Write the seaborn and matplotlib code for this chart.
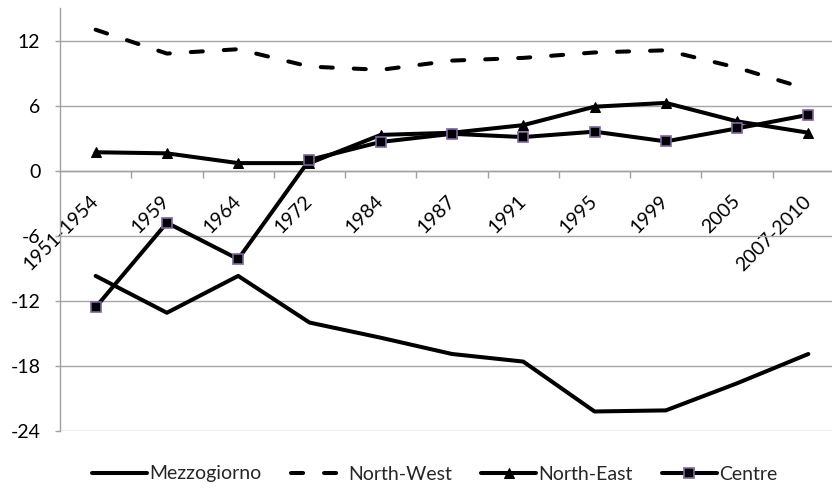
import matplotlib
matplotlib.use("Agg")
import matplotlib.pyplot as plt
from matplotlib.ticker import FixedLocator
import numpy as np
import pandas as pd
import seaborn as sns

years = ["1951-1954", "1959", "1964", "1972", "1984", "1987",
         "1991", "1995", "1999", "2005", "2007-2010"]
mezzogiorno = [-9.7, -13.1, -9.7, -14.0, -15.4, -16.9, -17.6, -22.2, -22.1, -19.6, -16.9]
north_west = [13.0, 10.8, 11.2, 9.6, 9.3, 10.15, 10.4, 10.9, 11.1, 9.5, 7.5]
north_east = [1.7, 1.6, 0.7, 0.7, 3.3, 3.5, 4.2, 5.9, 6.25, 4.55, 3.5]
centre = [-12.6, -4.8, -8.15, 1.0, 2.65, 3.4, 3.1, 3.6, 2.7, 3.9, 5.15]
y_ticks = [-24, -18, -12, -6, 0, 6, 12]

sns.set_theme(style="white")
plt.rcParams["font.family"] = ["Lato", "DejaVu Sans"]

df = pd.DataFrame({"year": years, "Mezzogiorno": mezzogiorno,
                   "North-West": north_west, "North-East": north_east,
                   "Centre": centre})

fig = plt.figure(figsize=(8.32, 4.88), dpi=100)
ax = fig.add_axes([60 / 832, 57 / 488, 784 / 832, 423 / 488])

LW = 2.9
sns.lineplot(data=df, x="year", y="Mezzogiorno", ax=ax, sort=False,
             color="black", lw=LW, label="Mezzogiorno", zorder=3)
sns.lineplot(data=df, x="year", y="North-West", ax=ax, sort=False,
             color="black", lw=LW, label="North-West", zorder=3,
             dashes=(3.0, 5.2), dash_capstyle="round")
sns.lineplot(data=df, x="year", y="North-East", ax=ax, sort=False,
             color="black", lw=LW, label="North-East", zorder=4,
             marker="^", markersize=7.5, markerfacecolor="black",
             markeredgecolor="black")
sns.lineplot(data=df, x="year", y="Centre", ax=ax, sort=False,
             color="black", lw=LW, label="Centre", zorder=5,
             marker="s", markersize=7.5, markerfacecolor="black",
             markeredgecolor="#8064A2", markeredgewidth=1.2)

ax.set_xlim(-0.5, len(years) - 0.5)
ax.set_ylim(-24, 15)
ax.set_xlabel("")
ax.set_ylabel("")

grey = "#A0A0A0"
ax.set_yticks(y_ticks)
ax.set_yticklabels([str(v) for v in y_ticks])
ax.yaxis.grid(True, color="#A6A6A6", lw=1.0)
ax.xaxis.grid(False)
ax.set_axisbelow(True)

for side in ("top", "right"):
    ax.spines[side].set_visible(False)
ax.spines["left"].set_color(grey)
ax.spines["left"].set_linewidth(1.0)
ax.spines["bottom"].set_position(("data", 0))
ax.spines["bottom"].set_color(grey)
ax.spines["bottom"].set_linewidth(1.0)

ax.tick_params(axis="y", which="major", direction="out", length=3.6,
               width=1.0, color=grey, pad=10.5, labelsize=14,
               labelcolor="black", left=True)
ax.set_xticks(range(len(years)))
ax.set_xticklabels(years, rotation=45, ha="right", va="center",
                   rotation_mode="anchor")
ax.xaxis.set_minor_locator(FixedLocator(np.arange(0.5, len(years), 1.0)))
ax.tick_params(axis="x", which="major", length=0, pad=20, labelsize=14,
               labelcolor="black", bottom=True)
ax.tick_params(axis="x", which="minor", direction="out", length=5,
               width=1.0, color=grey, bottom=True)

handles, labels = ax.get_legend_handles_labels()
ax.legend(handles, labels, loc="center", bbox_to_anchor=(435 / 832, 14 / 488),
          bbox_transform=fig.transFigure, ncol=4, frameon=False,
          fontsize=14, handlelength=2.8, handletextpad=0.15,
          columnspacing=1.5, numpoints=1)

fig.savefig("out.png", dpi=100)
